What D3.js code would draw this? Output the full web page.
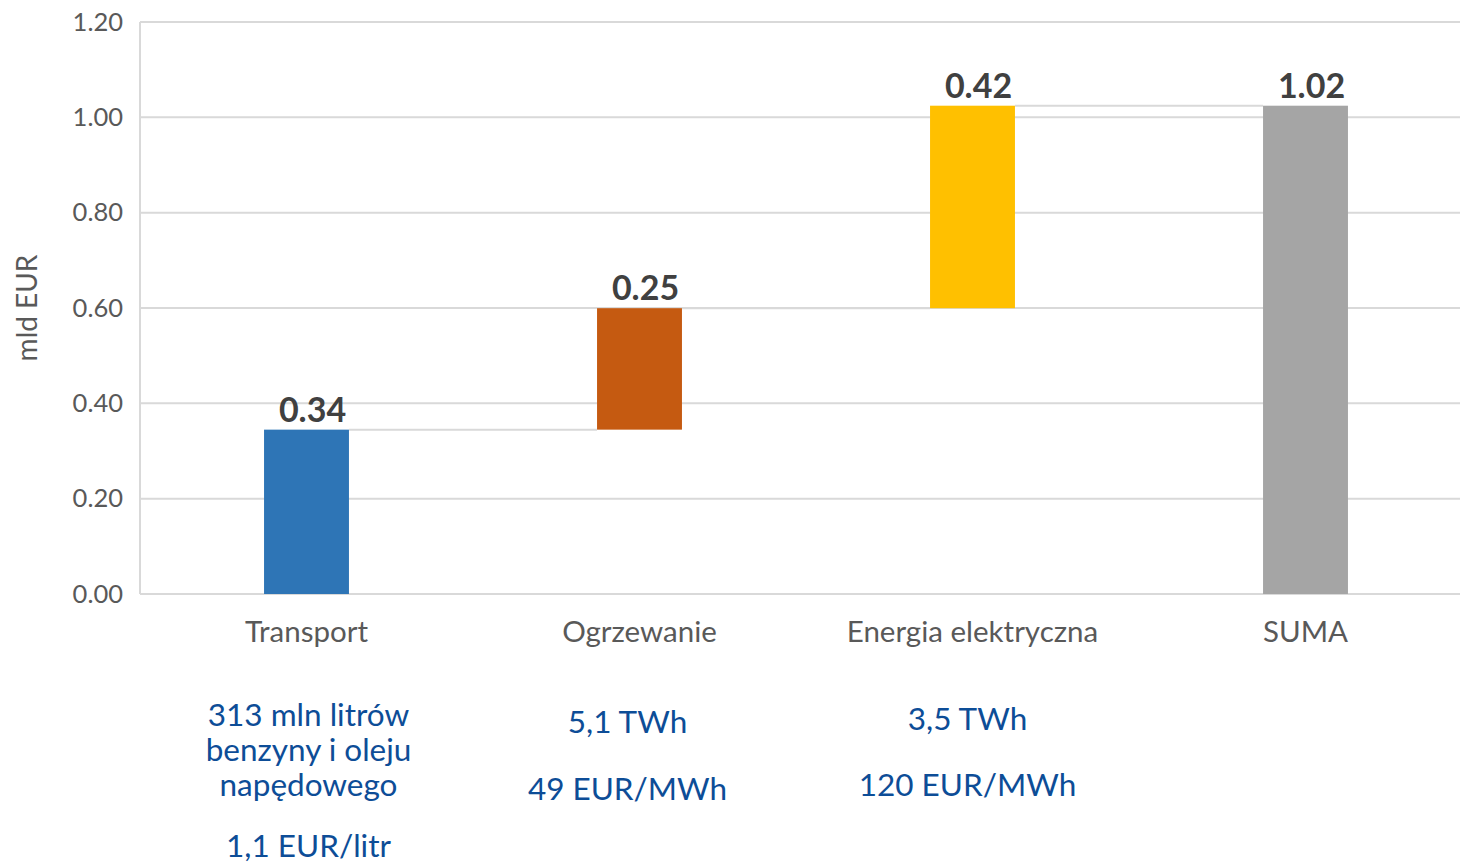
<!DOCTYPE html>
<html>
<head>
<meta charset="utf-8">
<script src="https://cdn.jsdelivr.net/npm/d3@7"></script>
<style>
  body { margin: 0; background: #fff; }
  text { font-family: Lato, "Open Sans", sans-serif; }
</style>
</head>
<body>
<svg id="chart"></svg>
<script>
const categories = ["Transport", "Ogrzewanie", "Energia elektryczna", "SUMA"];
const deltas = [0.3448, 0.2548, 0.4248];
const colors = ["#2E75B6", "#C55A11", "#FFC000", "#A5A5A5"];
const yTicks = [0, 0.2, 0.4, 0.6, 0.8, 1.0, 1.2];
const notes = [
  [["313 mln litrów", 0], ["benzyny i oleju", 1], ["napędowego", 2], ["1,1 EUR/litr", 3.75]],
  [["5,1 TWh", 0.2], ["49 EUR/MWh", 2.1]],
  [["3,5 TWh", 0.1], ["120 EUR/MWh", 2]],
  []
];

const svg = d3.select("#chart")
  .attr("width", 1460)
  .attr("height", 865);

const margin = { top: 22, right: 0, bottom: 271, left: 140 };
const height = 865 - margin.top - margin.bottom;

// build waterfall rows: start/end for each category
let run = 0;
const rows = categories.map((c, i) => {
  if (i < deltas.length) {
    const r = { cat: c, y0: run, y1: run + deltas[i], val: deltas[i], color: colors[i] };
    run += deltas[i];
    return r;
  }
  return { cat: c, y0: 0, y1: run, val: run, color: colors[i] };
});

const x = d3.scaleBand()
  .domain(categories)
  .range([margin.left, 1472])
  .paddingInner(0.745)
  .paddingOuter(0.3725);

const y = d3.scaleLinear()
  .domain([0, 1.2])
  .range([margin.top + height, margin.top]);

// gridlines + left axis
svg.append("g")
  .selectAll("line")
  .data(yTicks)
  .join("line")
  .attr("x1", margin.left)
  .attr("x2", 1460)
  .attr("y1", d => y(d))
  .attr("y2", d => y(d))
  .attr("stroke", "#d9d9d9")
  .attr("stroke-width", 2);

svg.append("line")
  .attr("x1", margin.left).attr("x2", margin.left)
  .attr("y1", y(1.2)).attr("y2", y(0))
  .attr("stroke", "#d9d9d9")
  .attr("stroke-width", 2);

const yAxis = svg.append("g")
  .attr("transform", `translate(${margin.left},0)`)
  .call(d3.axisLeft(y).tickValues(yTicks).tickFormat(d3.format(".2f")).tickSize(0).tickPadding(17));
yAxis.select(".domain").remove();
yAxis.selectAll("text")
  .style("font-family", "Lato, sans-serif")
  .style("font-size", "25.5px")
  .attr("fill", "#595959");

// connectors between bars
svg.append("g")
  .selectAll("line")
  .data(rows.slice(0, -1))
  .join("line")
  .attr("x1", (d, i) => x(d.cat) + x.bandwidth())
  .attr("x2", (d, i) => x(categories[i + 1]))
  .attr("y1", d => y(d.y1))
  .attr("y2", d => y(d.y1))
  .attr("stroke", "#d9d9d9")
  .attr("stroke-width", 2);

// bars
svg.append("g")
  .selectAll("rect")
  .data(rows)
  .join("rect")
  .attr("x", d => x(d.cat))
  .attr("width", x.bandwidth())
  .attr("y", d => y(d.y1))
  .attr("height", d => y(d.y0) - y(d.y1))
  .attr("fill", d => d.color);

// value labels
svg.append("g")
  .selectAll("text")
  .data(rows)
  .join("text")
  .attr("x", d => x(d.cat) + x.bandwidth() / 2 + 6)
  .attr("y", d => y(d.y1) - 8)
  .attr("text-anchor", "middle")
  .attr("fill", "#404040")
  .style("font-size", "34px")
  .style("font-weight", "bold")
  .text(d => d3.format(".2f")(d.val));

// category labels
svg.append("g")
  .selectAll("text")
  .data(categories)
  .join("text")
  .attr("x", d => x(d) + x.bandwidth() / 2)
  .attr("y", y(0) + 48)
  .attr("text-anchor", "middle")
  .attr("fill", "#595959")
  .style("font-size", "29.5px")
  .text(d => d);

// y axis title
svg.append("text")
  .attr("transform", `translate(37, ${y(0.6)}) rotate(-90)`)
  .attr("text-anchor", "middle")
  .attr("fill", "#595959")
  .style("font-size", "28px")
  .text("mld EUR");

// blue notes under categories
const noteOffsets = [2, -12, -5, 0];
categories.forEach((c, i) => {
  svg.append("g")
    .selectAll("text")
    .data(notes[i])
    .join("text")
    .attr("x", x(c) + x.bandwidth() / 2 + noteOffsets[i])
    .attr("y", d => 726 + d[1] * 35)
    .attr("text-anchor", "middle")
    .attr("fill", "#0D4D97")
    .style("font-size", "31.5px")
    .text(d => d[0]);
});
</script>
</body>
</html>
